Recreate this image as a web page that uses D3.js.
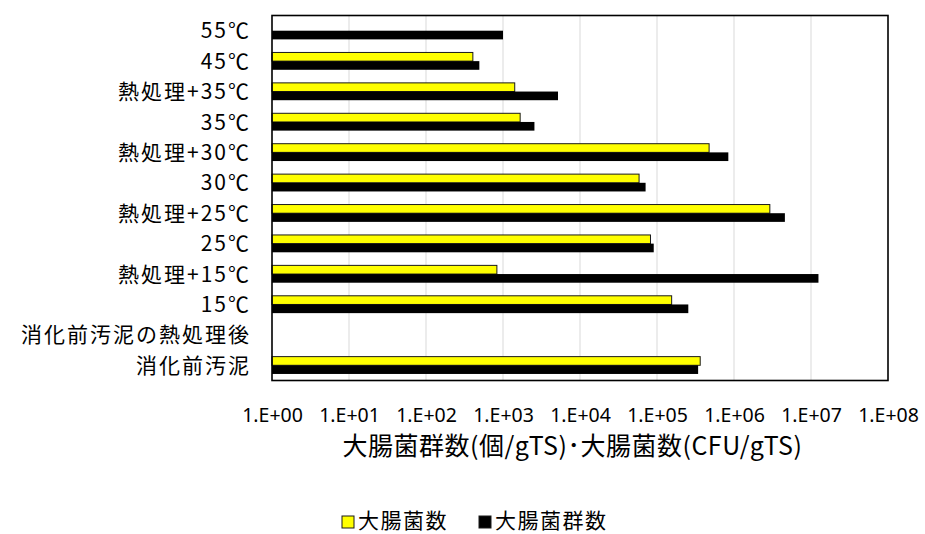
<!DOCTYPE html>
<html><head><meta charset="utf-8">
<script src="https://cdn.jsdelivr.net/npm/d3@7"></script>
<style>
body{margin:0;background:#fff;}
text{font-family:"Noto Sans CJK JP","Noto Sans",sans-serif;fill:#000;}
</style></head><body>
<svg id="c" width="925" height="534"></svg>
<script>
const categories = ["消化前汚泥","消化前汚泥の熱処理後","15℃","熱処理+15℃","25℃","熱処理+25℃","30℃","熱処理+30℃","35℃","熱処理+35℃","45℃","55℃"];
const ecoli    = [364000, null, 155000, 833, 82300, 2920000, 58500, 475000, 1670, 1420, 406, null];
const coliform = [342000, null, 255000, 12500000, 90700, 4580000, 71100, 844000, 2560, 5180, 493, 1000];
const tickValues = [1,1e1,1e2,1e3,1e4,1e5,1e6,1e7,1e8];
const tickLabels = ["1.E+00","1.E+01","1.E+02","1.E+03","1.E+04","1.E+05","1.E+06","1.E+07","1.E+08"];
const seriesNames = ["大腸菌数","大腸菌群数"];
const seriesColors = ["#ffff00","#000000"];
const xTitle = "大腸菌群数(個/gTS)･大腸菌数(CFU/gTS)";

const svg = d3.select("#c");
const L=272, R=888, T=15.5, B=380.5;
const x = d3.scaleLog().domain([1,1e8]).range([L,R]);
const y = d3.scaleBand().domain(categories.slice().reverse()).range([T,B]).paddingInner(0.43).paddingOuter(0.215);
const ys = d3.scaleBand().domain([0,1]).range([0,y.bandwidth()]);

// gridlines
svg.append("g").selectAll("line").data(tickValues.slice(1,-1)).join("line")
  .attr("x1",d=>x(d)).attr("x2",d=>x(d)).attr("y1",T).attr("y2",B)
  .attr("stroke","#d9d9d9").attr("stroke-width",1);

const series=[ecoli,coliform];
series.forEach((vals,si)=>{
  svg.append("g").selectAll("rect").data(categories.map((c,i)=>({c,v:vals[i]})).filter(d=>d.v!=null)).join("rect")
    .attr("x",L).attr("y",d=>y(d.c)+ys(si))
    .attr("width",d=>x(d.v)-L).attr("height",ys.bandwidth())
    .attr("fill",seriesColors[si])
    .attr("stroke",si===0?"#1a1a1a":"none").attr("stroke-width",1);
});

// frame
svg.append("rect").attr("x",L).attr("y",T).attr("width",R-L).attr("height",B-T)
  .attr("fill","none").attr("stroke","#000").attr("stroke-width",1.6);

// y labels
svg.append("g").selectAll("text").data(categories).join("text")
  .attr("x",251).attr("y",d=>y(d)+y.bandwidth()/2).attr("dy","0.36em")
  .attr("text-anchor","end").style("font-size","21px").style("letter-spacing","2px").text(d=>d);

// x axis
const ax = d3.axisBottom(x).tickValues(tickValues).tickFormat((d,i)=>tickLabels[i]).tickSize(0).tickPadding(0);
const gAx = svg.append("g").attr("transform",`translate(0,${B})`).call(ax);
gAx.select(".domain").remove();
gAx.selectAll("text").attr("y",41).attr("dy","0").style("font-size","19.5px").style("font-family","'Noto Sans',sans-serif").attr("fill","#000");

svg.append("text").attr("x",572.5).attr("y",455).attr("text-anchor","middle")
  .style("font-size","25px").style("letter-spacing","0.5px").text(xTitle);

// legend
const lg = svg.append("g");
const lx=[342,479];
seriesNames.forEach((n,i)=>{
  lg.append("rect").attr("x",lx[i]).attr("y",516).attr("width",12).attr("height",12)
    .attr("fill",seriesColors[i]).attr("stroke","#1a1a1a").attr("stroke-width",1);
  lg.append("text").attr("x",lx[i]+16).attr("y",528).style("font-size",  "21px").style("letter-spacing","1.5px").text(n);
});
</script></body></html>
